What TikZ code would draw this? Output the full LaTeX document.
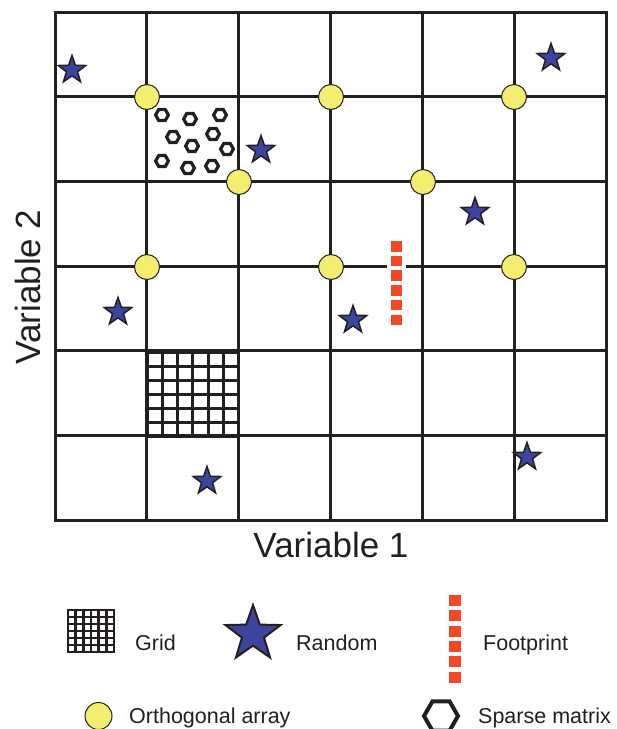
\documentclass[tikz,border=0pt]{standalone}
\usepackage{fontspec}
\setmainfont{Liberation Sans}
\usepackage{tikz}
\usetikzlibrary{shapes.geometric}
\definecolor{trait}{HTML}{231F20}
\definecolor{jaune}{HTML}{F4EE70}
\definecolor{bleu}{HTML}{3C449E}
\definecolor{rouge}{HTML}{F04923}
\newcommand{\hexagone}[3]{\begin{scope}[shift={(#1,#2)}]\draw[trait] (0:#3)--(60:#3)--(120:#3)--(180:#3)--(240:#3)--(300:#3)--cycle;\end{scope}}
\newcommand{\quadrillage}[4]{\begin{scope}[shift={(#1,#2)}]\foreach \k in {0,...,6} {\draw[trait,line cap=rect] (\k*#3/6,0)--(\k*#3/6,#4); \draw[trait,line cap=rect] (0,\k*#4/6)--(#3,\k*#4/6);}\end{scope}}

\begin{document}
\begin{tikzpicture}[x=1pt,y=-1pt,
    cloison/.style={trait,line width=3pt},
    etoile/.style={star,star points=5,star point ratio=2.5,draw=trait,line width=1.5pt,fill=bleu,inner sep=0pt,minimum size=29pt},
    ortho/.style={circle,draw=trait,line width=1pt,fill=jaune,inner sep=0pt,minimum size=25pt},
    legende/.style={font=\fontsize{21.5}{24}\selectfont,text=trait,anchor=base west,inner sep=0pt}]
  \def\xg{55}\def\xd{606}\def\yh{12}\def\yb{520}\def\cw{91.833}\def\rh{84.667}
  \useasboundingbox (0,0) rectangle (617,729);

  % cadre et cases
  \draw[cloison,line cap=rect] (\xg,\yh) rectangle (\xd,\yb);
  \foreach \k in {1,...,5} \draw[cloison] (\xg+\k*\cw,\yh) -- (\xg+\k*\cw,\yb);
  \foreach \k in {1,2,4,5} \draw[cloison] (\xg,\yh+\k*\rh) -- (\xd,\yh+\k*\rh);
  \draw[cloison] (\xg,\yh+3*\rh) -- (387,\yh+3*\rh) (406,\yh+3*\rh) -- (\xd,\yh+3*\rh);

  % plan en grille
  \begin{scope}[line width=3pt]
    \quadrillage{147}{352}{91.8}{84.7}
  \end{scope}

  % matrice creuse
  \begin{scope}[line width=3.2pt]
    \foreach \x/\y in {162/115,190/119,220/115,173/137,213/134,192/146,227/149,162/161,188/168,212/166}
      {\hexagone{\x}{\y}{6.4}}
  \end{scope}

  % empreinte
  \foreach \k in {0,...,5} \fill[rouge] (391,241+\k*14.7) rectangle +(11,10.5);

  % tableau orthogonal
  \foreach \x/\y [count=\i] in {147/97,331/97,514/97,239/182,423/182,147/267,331/267,514/267}
    \node[ortho] (oa\i) at (\x,\y) {};

  % tirage aleatoire
  \foreach \x/\y [count=\i] in {72/70,551/58,261/150,475/212,118/312,353/320,527/457,207/481}
    \node[etoile] (et\i) at (\x,\y) {};

  % axes
  \node[font=\fontsize{35}{40}\selectfont,text=trait,anchor=base,inner sep=0pt] (var1) at (331,557) {Variable 1};
  \node[font=\fontsize{35}{40}\selectfont,text=trait,anchor=base,inner sep=0pt,rotate=90] (var2) at (40,287) {Variable 2};

  % legende
  \begin{scope}[line width=2.7pt]
    \quadrillage{68}{610}{46}{42}
  \end{scope}
  \node[legende] (lgrille) at (135,650) {Grid};
  \node[etoile,minimum size=58pt,line width=2pt] (letoile) at (253,634) {};
  \node[legende] (lrandom) at (296,650) {Random};
  \foreach \k in {0,...,5} \fill[rouge] (449,595+\k*15.3) rectangle +(11.5,11);
  \node[legende] (lfoot) at (483,650) {Footprint};
  \node[ortho,minimum size=27pt] (lortho) at (98.5,716) {};
  \node[legende] (lortholab) at (129,723) {Orthogonal array};
  \begin{scope}[line width=4pt]
    \hexagone{441}{716}{17}
  \end{scope}
  \node[legende] (lsparse) at (478,723) {Sparse matrix};
\end{tikzpicture}
\end{document}
